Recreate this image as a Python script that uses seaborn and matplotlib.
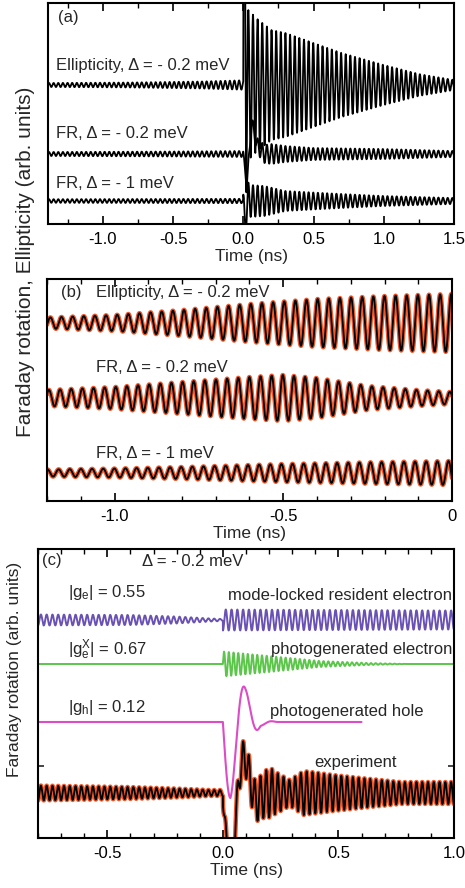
import numpy as np
import matplotlib.pyplot as plt
import seaborn as sns
from matplotlib.ticker import MultipleLocator, FixedLocator

# ---------------- values ----------------------------------------
# precession periods (ns)
T_AB = 0.033      # panels (a), (b)
T_RES = 0.025     # panel (c) resident electron, |g_e| = 0.55
T_PHX = 0.0205    # panel (c) photogenerated electron, |g_e^X| = 0.67
T_HOLE = 0.13     # panel (c) photogenerated hole

# panel (a) -- baselines and envelopes (y in px above the axis bottom)
a_base = [139, 70, 23]  # Ellipticity -0.2, FR -0.2, FR -1
a_labels = ["Ellipticity, Δ = - 0.2 meV", "FR, Δ = - 0.2 meV", "FR, Δ = - 1 meV"]
a_label_y = [158, 90, 40]

ell_a_pre_t = [-1.4, -0.8, -0.3, 0.0]
ell_a_pre_amp = [2.0, 2.5, 3.5, 4.7]
ell_a_post_t = [0.0, 0.1, 0.2, 0.3, 0.5, 0.7, 1.0, 1.25, 1.5]
ell_a_post_amp = [80, 66, 55, 52, 42, 32, 20, 11, 5]
ell_a_spike_t = [0.0, 0.012, 0.022, 0.03]
ell_a_spike_y = [0, 170, -40, 0]

fr02_a_pre_t = [-1.4, -0.5, 0.0]
fr02_a_pre_amp = [2.0, 2.5, 3.0]
fr02_a_post_t = [0.0, 0.1, 0.2, 0.3, 0.5, 1.0, 1.5]
fr02_a_post_amp = [3, 8, 10, 8, 6, 5, 3]
fr02_a_spike_t = [0.0, 0.025, 0.06, 0.1, 0.15]
fr02_a_spike_y = [0, -31, 32, 8, 0]

fr1_a_pre_t = [-1.4, 0.0]
fr1_a_pre_amp = [1.8, 2.2]
fr1_a_post_t = [0.0, 0.05, 0.15, 0.3, 0.7, 1.0, 1.5]
fr1_a_post_amp = [8, 16, 15, 10, 7, 5, 3]
fr1_a_spike_t = [0.0, 0.015, 0.035, 0.05]
fr1_a_spike_y = [0, -25, 5, 0]

# panel (b) -- negative delays only
b_base = [178, 103, 28]
b_labels = a_labels
b_label_y = [209, 133, 47]
ell_b_t = [-1.2, -1.0, -0.8, -0.6, -0.4, -0.2, 0.0]
ell_b_amp = [5.5, 8, 13, 19, 24, 27, 29]
fr02_b_t = [-1.2, -1.0, -0.8, -0.6, -0.5, -0.4, -0.25, -0.1, 0.0]
fr02_b_amp = [8, 11, 16, 21, 23, 20, 12, 8, 6]
fr1_b_t = [-1.2, -1.0, -0.8, -0.5, -0.2, 0.0]
fr1_b_amp = [3.5, 4.5, 6, 9, 11, 12]

# panel (c)
c_base = [218, 174, 116, 45]  # resident, photo electron, hole, experiment
res_pre_t = [-0.8, -0.4, -0.2, -0.05, 0.0]
res_pre_amp = [5.5, 5, 3.5, 1.5, 1]
res_post_t = [0.0, 1.0]
res_post_amp = [10.5, 9.5]
phx_t = [0.0, 0.2, 0.42, 0.63, 0.8, 1.0]
phx_amp = [12.5, 8, 3, 1, 0, 0]
hole_t = [0.0, 0.0325, 0.0975, 0.1625, 0.23]
hole_amp = [76, 76, 33, 4, 0]
HOLE_END = 0.6
exp_pre_t = [-0.8, -0.4, -0.2, -0.05, 0.0]
exp_pre_amp = [7.5, 6, 4.5, 3, 3]
exp_post_t = [0.0, 0.15, 0.2, 0.25, 0.29, 0.35, 0.48, 0.6, 0.77, 1.0]
exp_post_amp = [12, 20, 25, 18, 13, 22, 18, 15, 11, 11]

C_RED = "#f2582a"
C_RES = "#6a52b5"
C_PHX = "#5cc64a"
C_HOLE = "#dc4cc6"
FS = 12


def osc(t, tk, ak, period, phase=0.0):
    return np.interp(t, tk, ak) * np.cos(2 * np.pi * t / period + phase)


def trace(t, pre, post, spike=None, period=T_AB, phase=0.0):
    y = np.where(t < 0, osc(t, *pre, period, phase), osc(t, *post, period, phase))
    if spike is not None:
        y = y + np.interp(t, *spike, left=0, right=0)
    return y


sns.set_theme(style="ticks")
plt.rcParams["font.family"] = ["Liberation Sans", "DejaVu Sans"]
plt.rcParams["mathtext.fontset"] = "custom"
plt.rcParams["mathtext.rm"] = "Liberation Sans"
plt.rcParams["mathtext.it"] = "Liberation Sans"
plt.rcParams["axes.unicode_minus"] = False

W, H = 465, 888
fig = plt.figure(figsize=(W / 100, H / 100), dpi=100)


def px_axes(l, r, top, bot):
    return fig.add_axes([l / W, 1 - bot / H, (r - l) / W, (bot - top) / H])


def style(ax, fmt):
    for s in ax.spines.values():
        s.set_linewidth(1.5)
        s.set_color("black")
    ax.tick_params(axis="x", which="both", direction="in", top=True, bottom=True,
                   labelsize=12, pad=6, colors="black")
    ax.tick_params(axis="x", which="major", length=6, width=1.2)
    ax.tick_params(axis="x", which="minor", length=3.5, width=1.0)
    ax.set_yticks([])
    ax.set_xlabel("Time (ns)", fontsize=12.5, labelpad=1)
    ax.set_ylabel("")
    ax.xaxis.set_major_formatter(plt.FuncFormatter(fmt))


# ---------------- (a) -----------------
ax_a = px_axes(48, 454, 3, 224)
t_a = np.linspace(-1.39, 1.5, 7000)
ya = [
    trace(t_a, (ell_a_pre_t, ell_a_pre_amp), (ell_a_post_t, ell_a_post_amp),
          (ell_a_spike_t, ell_a_spike_y), phase=-0.6),
    trace(t_a, (fr02_a_pre_t, fr02_a_pre_amp), (fr02_a_post_t, fr02_a_post_amp),
          (fr02_a_spike_t, fr02_a_spike_y), phase=-0.6),
    trace(t_a, (fr1_a_pre_t, fr1_a_pre_amp), (fr1_a_post_t, fr1_a_post_amp),
          (fr1_a_spike_t, fr1_a_spike_y), phase=-0.6),
]
for base, y in zip(a_base, ya):
    sns.lineplot(x=t_a, y=base + y, ax=ax_a, color="black", lw=1.3,
                 estimator=None, sort=False)
ax_a.set_xlim(-1.39, 1.5)
ax_a.set_ylim(0, 221)
ax_a.xaxis.set_major_locator(MultipleLocator(0.5))
ax_a.xaxis.set_minor_locator(MultipleLocator(0.25))
style(ax_a, lambda v, p: f"{v:.1f}".replace("-0.0", "0.0"))
ax_a.text(-1.322, 206, "(a)", fontsize=FS, va="center")
for lab, yl in zip(a_labels, a_label_y):
    ax_a.text(-1.335, yl, lab, fontsize=FS, va="center")

# ---------------- (b) -----------------
ax_b = px_axes(47, 452, 279, 501)
t_b = np.linspace(-1.2, 0.0, 4000)
yb = [osc(t_b, ell_b_t, ell_b_amp, T_AB, 0.4),
      osc(t_b, fr02_b_t, fr02_b_amp, T_AB, 1.2),
      osc(t_b, fr1_b_t, fr1_b_amp, T_AB, 2.0)]
for base, y in zip(b_base, yb):
    sns.lineplot(x=t_b, y=base + y, ax=ax_b, color=C_RED, lw=3.2,
                 estimator=None, sort=False)
    sns.lineplot(x=t_b, y=base + y, ax=ax_b, color="black", lw=1.3,
                 estimator=None, sort=False)
ax_b.set_xlim(-1.2, 0.0)
ax_b.set_ylim(0, 222)
ax_b.xaxis.set_major_locator(FixedLocator([-1.0, -0.5, 0.0]))
ax_b.xaxis.set_minor_locator(MultipleLocator(0.1))
style(ax_b, lambda v, p: "0" if abs(v) < 1e-9 else f"{v:.1f}")
ax_b.text(-1.159, 209, "(b)", fontsize=FS, va="center")
for lab, yl in zip(b_labels, b_label_y):
    ax_b.text(-1.056, yl, lab, fontsize=FS, va="center")

# ---------------- (c) -----------------
ax_c = px_axes(38, 454, 549, 838)
t_c = np.linspace(-0.8, 1.0, 6000)
y_res = trace(t_c, (res_pre_t, res_pre_amp), (res_post_t, res_post_amp),
              period=T_RES, phase=np.pi)
y_phx = np.where(t_c < 0, 0.0,
                 np.interp(t_c, phx_t, phx_amp) * np.sin(2 * np.pi * t_c / T_PHX))
y_hole = np.where(t_c < 0, 0.0,
                  -np.interp(t_c, hole_t, hole_amp, right=0)
                  * np.sin(2 * np.pi * t_c / T_HOLE))
y_exp = trace(t_c, (exp_pre_t, exp_pre_amp), (exp_post_t, exp_post_amp),
              period=T_RES, phase=np.pi) + y_hole

sns.lineplot(x=t_c, y=c_base[0] + y_res, ax=ax_c, color=C_RES, lw=1.4,
             estimator=None, sort=False)
sns.lineplot(x=t_c, y=c_base[1] + y_phx, ax=ax_c, color=C_PHX, lw=1.4,
             estimator=None, sort=False)
m = t_c <= HOLE_END
sns.lineplot(x=t_c[m], y=c_base[2] + y_hole[m], ax=ax_c, color=C_HOLE, lw=1.5,
             estimator=None, sort=False)
sns.lineplot(x=t_c, y=c_base[3] + y_exp, ax=ax_c, color=C_RED, lw=3.2,
             estimator=None, sort=False)
sns.lineplot(x=t_c, y=c_base[3] + y_exp, ax=ax_c, color="black", lw=1.3,
             estimator=None, sort=False)
ax_c.set_xlim(-0.8, 1.0)
ax_c.set_ylim(0, 289)
ax_c.xaxis.set_major_locator(MultipleLocator(0.5))
ax_c.xaxis.set_minor_locator(MultipleLocator(0.1))
style(ax_c, lambda v, p: f"{v:.1f}".replace("-0.0", "0.0"))
ax_c.set_yticks([72])
ax_c.tick_params(axis="y", direction="in", left=True, right=True, length=4,
                 width=1.2, labelleft=False)

ax_c.text(-0.782, 278, "(c)", fontsize=FS, va="center")
ax_c.text(-0.35, 277, "Δ = - 0.2 meV", fontsize=FS, va="center")
ax_c.text(-0.67, 241, r"|g$_\mathregular{e}$| = 0.55", fontsize=FS, va="baseline")
ax_c.text(-0.67, 183, r"|g$^\mathregular{X}_\mathregular{e}$| = 0.67", fontsize=FS, va="baseline")
ax_c.text(-0.67, 126, r"|g$_\mathregular{h}$| = 0.12", fontsize=FS, va="baseline")
ax_c.text(0.022, 243, "mode-locked resident electron", fontsize=FS, va="center")
ax_c.text(0.207, 189, "photogenerated electron", fontsize=FS, va="center")
ax_c.text(0.203, 127, "photogenerated hole", fontsize=FS, va="center")
ax_c.text(0.397, 76, "experiment", fontsize=FS, va="center")

# shared y labels
fig.text(26 / W, 1 - 262 / H, "Faraday rotation, Ellipticity (arb. units)",
         rotation=90, ha="center", va="center", fontsize=15)
fig.text(15 / W, 1 - 669 / H, "Faraday rotation (arb. units)",
         rotation=90, ha="center", va="center", fontsize=12.5)

fig.savefig("out.png", dpi=100)
